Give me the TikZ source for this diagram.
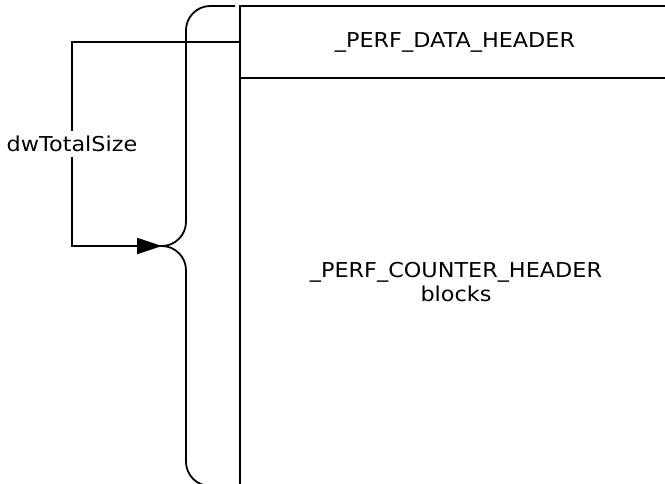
\documentclass[tikz,border=0pt]{standalone}
\usepackage{fontspec}
\setmainfont{DejaVu Sans}[FakeStretch=1.09]
\usetikzlibrary{arrows.meta}
\begin{document}
\begin{tikzpicture}[x=1pt,y=-1pt,
  line width=1.8pt,
  txt/.style={font=\fontsize{20.5}{24}\selectfont, inner sep=0pt, align=center},
  boxshape/.style={draw, rectangle, minimum width=430pt, inner sep=0pt},
  arr/.style={-{Triangle[length=25pt,width=16pt]}}]
  \useasboundingbox (0,0) rectangle (665,483);
  % structure boxes (right part cropped by the page edge)
  \node[boxshape, minimum height=72pt, txt] (hdr) at (455,42) {\_PERF\_DATA\_HEADER};
  \node[boxshape, minimum height=440pt] (cnt) at (455,298) {};
  \node[txt] (cnttxt) at (456,282) {\_PERF\_COUNTER\_HEADER\\blocks};
  % brace
  \draw (235,6) -- (210,6) .. controls (197,6) and (186,17) .. (186,30)
        -- (186,222) .. controls (186,235) and (175,246) .. (162,246)
        .. controls (175,246) and (186,257) .. (186,270)
        -- (186,462) .. controls (186,475) and (197,486) .. (210,486) -- (235,486);
  % size connector
  \coordinate (tip) at (162,246);
  \node[txt, inner sep=4pt] (sz) at (72,144) {dwTotalSize};
  \draw (hdr.west) -| (sz.north);
  \draw[arr] (sz.south) |- (tip);
\end{tikzpicture}
\end{document}
